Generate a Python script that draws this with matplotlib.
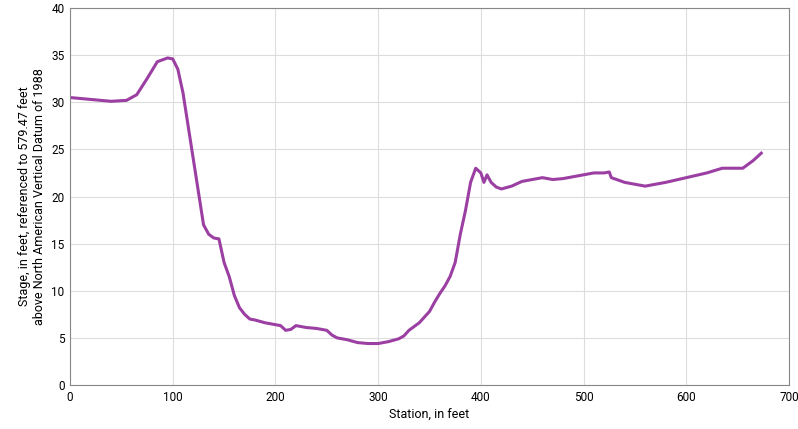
import matplotlib
matplotlib.use('Agg')
import matplotlib.pyplot as plt

plt.rcParams['font.family'] = ['Liberation Sans Narrow', 'Roboto', 'DejaVu Sans']

station = [0, 20, 40, 55, 65, 75, 85, 95, 100, 105, 110, 115, 120, 125, 130, 135, 140, 145,
           150, 155, 160, 165, 170, 175, 180, 190, 200, 205, 210, 215, 220, 230, 240, 250,
           255, 260, 270, 280, 290, 300, 310, 320, 325, 330, 340, 350, 355, 360, 365, 370,
           375, 380, 385, 390, 395, 400, 403, 406, 410, 415, 420, 430, 440, 450, 460, 470,
           480, 490, 500, 510, 520, 525, 527, 540, 560, 580, 600, 620, 635, 655, 665, 673]
stage = [30.5, 30.3, 30.1, 30.2, 30.8, 32.5, 34.3, 34.7, 34.6, 33.5, 31.0, 27.5, 24.0, 20.5,
         17.0, 16.0, 15.6, 15.5, 13.0, 11.5, 9.5, 8.2, 7.5, 7.0, 6.9, 6.6, 6.4, 6.3, 5.8, 5.9,
         6.3, 6.1, 6.0, 5.8, 5.3, 5.0, 4.8, 4.5, 4.4, 4.4, 4.6, 4.9, 5.2, 5.8, 6.6, 7.8, 8.8,
         9.7, 10.5, 11.5, 13.0, 16.0, 18.5, 21.5, 23.0, 22.5, 21.5, 22.3, 21.5, 21.0, 20.8,
         21.1, 21.6, 21.8, 22.0, 21.8, 21.9, 22.1, 22.3, 22.5, 22.5, 22.6, 22.0, 21.5, 21.1,
         21.5, 22.0, 22.5, 23.0, 23.0, 23.8, 24.6]

fig = plt.figure(figsize=(7.98, 4.29), dpi=100)
ax = fig.add_axes([70 / 798, 1 - 385 / 429, 719 / 798, 377 / 429])
ax.plot(station, stage, color='#9b3fa3', lw=2.2)
ax.set_xlim(0, 700)
ax.set_ylim(0, 40)
ax.set_xticks(range(0, 701, 100))
ax.set_yticks(range(0, 41, 5))
ax.grid(True, color='#dddddd', lw=0.8)
ax.set_axisbelow(True)
for s in ax.spines.values():
    s.set_color('#888888')
    s.set_linewidth(0.8)
ax.tick_params(labelsize=8.5, length=0, pad=4)
ax.set_xlabel('Station, in feet', fontsize=9)
ax.set_ylabel('Stage, in feet, referenced to 579.47 feet\nabove North American Vertical Datum of 1988',
              fontsize=9)
fig.savefig('out.png', dpi=100)
